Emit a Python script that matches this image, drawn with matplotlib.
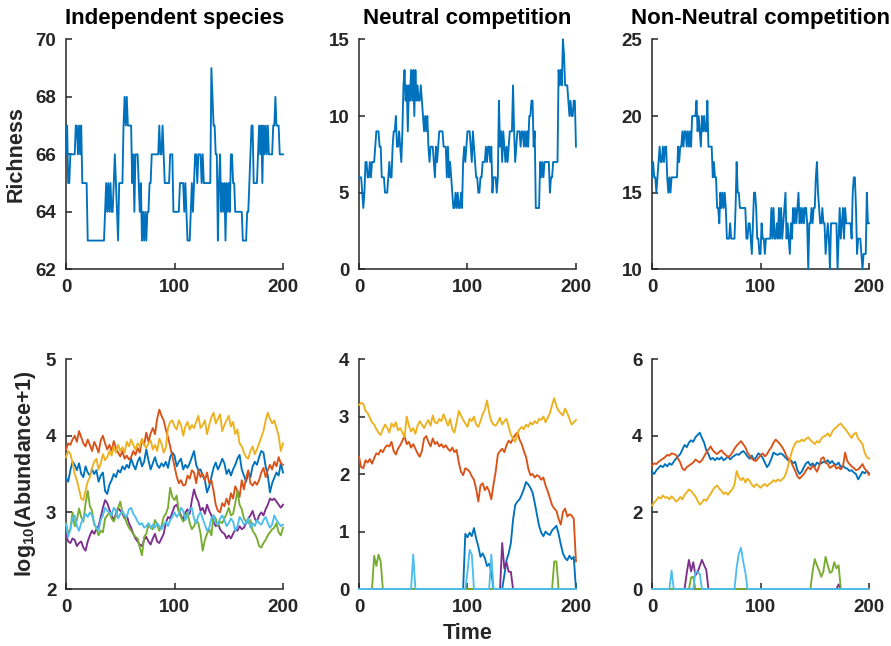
import numpy as np
import matplotlib
matplotlib.use("Agg")
import matplotlib.pyplot as plt

# ---- fonts / style (MATLAB-like, bold Helvetica look) ----
plt.rcParams['font.family'] = ['Liberation Sans', 'DejaVu Sans']
plt.rcParams['font.weight'] = 'bold'
plt.rcParams['mathtext.fontset'] = 'custom'
plt.rcParams['mathtext.rm'] = 'Liberation Sans:bold'
plt.rcParams['mathtext.it'] = 'Liberation Sans:bold'

# MATLAB default line colours
C_BLUE = '#0072BD'
C_ORANGE = '#D95319'
C_YELLOW = '#EDB120'
C_PURPLE = '#7E2F8E'
C_GREEN = '#77AC30'
C_CYAN = '#4DBEEE'
INK = '#262626'

titles = ["Independent species", "Neutral competition", "Non-Neutral competition"]

# ---- richness, one value per time step (t = 0..200) ----
rich_indep = [
    66, 67, 65, 65, 66, 66, 66, 66, 66, 67,
    67, 66, 67, 66, 67, 65, 65, 65, 65, 65,
    63, 63, 63, 63, 63, 63, 63, 63, 63, 63,
    63, 63, 63, 63, 63, 63, 64, 65, 64, 65,
    64, 65, 64, 64, 65, 66, 65, 64, 63, 65,
    65, 65, 65, 67, 68, 67, 68, 67, 67, 67,
    67, 65, 66, 64, 66, 66, 66, 65, 64, 65,
    63, 64, 63, 64, 63, 64, 64, 65, 65, 66,
    66, 66, 66, 66, 66, 66, 67, 66, 66, 67,
    66, 65, 65, 65, 65, 65, 66, 66, 66, 64,
    64, 64, 64, 64, 64, 65, 65, 65, 65, 64,
    65, 64, 63, 63, 63, 64, 65, 64, 65, 66,
    66, 65, 66, 66, 66, 65, 66, 65, 65, 65,
    65, 65, 65, 65, 69, 68, 67, 67, 66, 66,
    63, 65, 66, 64, 65, 64, 65, 63, 65, 64,
    65, 64, 66, 66, 65, 65, 64, 64, 64, 64,
    64, 64, 64, 63, 63, 63, 63, 64, 64, 65,
    66, 67, 67, 65, 65, 65, 65, 66, 67, 66,
    67, 65, 67, 66, 67, 66, 67, 66, 66, 66,
    66, 67, 67, 68, 67, 67, 67, 66, 66, 66,
    66]

rich_neutral = [
    6, 6, 6, 5, 4, 5, 7, 7, 6, 6,
    7, 6, 7, 7, 7, 8, 9, 9, 9, 8,
    8, 6, 6, 6, 5, 5, 5, 6, 7, 6,
    6, 8, 9, 9, 10, 8, 8, 9, 8, 7,
    9, 12, 13, 11, 12, 9, 12, 11, 13, 11,
    13, 10, 13, 11, 12, 11, 11, 12, 11, 10,
    9, 10, 9, 10, 8, 7, 8, 8, 8, 7,
    6, 8, 7, 8, 9, 9, 9, 9, 8, 8,
    8, 6, 8, 6, 7, 6, 5, 4, 4, 5,
    4, 5, 4, 4, 5, 4, 7, 8, 7, 8,
    9, 9, 9, 8, 7, 9, 8, 7, 6, 6,
    5, 5, 6, 6, 7, 7, 7, 8, 7, 8,
    8, 7, 8, 5, 6, 6, 6, 5, 6, 11,
    8, 9, 7, 9, 8, 7, 8, 7, 8, 9,
    9, 9, 12, 9, 7, 8, 9, 9, 9, 8,
    9, 9, 8, 9, 8, 9, 8, 10, 10, 11,
    11, 8, 9, 4, 4, 4, 4, 7, 6, 7,
    6, 7, 7, 7, 7, 7, 5, 6, 6, 7,
    7, 7, 7, 7, 13, 12, 13, 12, 15, 14,
    12, 12, 12, 11, 10, 11, 10, 10, 11, 11,
    8]

rich_nonneutral = [
    16, 17, 16, 16, 15, 16, 17, 18, 17, 17,
    18, 17, 18, 18, 16, 15, 16, 15, 16, 16,
    16, 16, 16, 16, 18, 17, 18, 18, 19, 18,
    19, 19, 18, 19, 18, 19, 18, 20, 20, 20,
    20, 21, 19, 20, 19, 18, 20, 19, 20, 19,
    19, 21, 18, 18, 18, 18, 16, 17, 16, 16,
    14, 14, 13, 15, 14, 15, 14, 15, 14, 12,
    12, 12, 13, 12, 12, 12, 12, 14, 17, 15,
    15, 14, 14, 14, 14, 14, 14, 12, 12, 13,
    13, 12, 11, 13, 15, 15, 14, 12, 12, 11,
    11, 13, 12, 12, 11, 12, 12, 12, 12, 12,
    14, 12, 14, 12, 12, 13, 12, 14, 12, 14,
    12, 13, 14, 15, 12, 13, 12, 11, 13, 12,
    14, 13, 14, 13, 14, 15, 13, 14, 13, 14,
    13, 14, 14, 13, 10, 13, 13, 14, 13, 14,
    14, 16, 17, 15, 14, 13, 13, 14, 13, 13,
    11, 12, 13, 12, 10, 13, 13, 13, 13, 13,
    13, 10, 12, 14, 12, 13, 14, 12, 14, 13,
    13, 13, 13, 13, 12, 15, 16, 16, 14, 11,
    12, 12, 12, 11, 10, 11, 11, 11, 15, 13,
    13]

# ---- log10(abundance+1), read every 2 time steps (t = 0, 2, ..., 200) ----
# independent species
ind_blue = [
    3.45, 3.40, 3.55, 3.66, 3.62, 3.55, 3.64, 3.50, 3.46, 3.60,
    3.52, 3.48, 3.56, 3.50, 3.55, 3.40, 3.48, 3.52, 3.28, 3.24,
    3.36, 3.42, 3.50, 3.46, 3.55, 3.52, 3.60, 3.56, 3.62, 3.58,
    3.70, 3.62, 3.56, 3.66, 3.72, 3.60, 3.66, 3.82, 3.68, 3.56,
    3.64, 3.72, 3.62, 3.58, 3.64, 3.60, 3.66, 3.58, 3.72, 3.78,
    3.74, 3.60, 3.66, 3.70, 3.56, 3.62, 3.58, 3.64, 3.72, 3.80,
    3.62, 3.55, 3.56, 3.48, 3.42, 3.26, 3.34, 3.46, 3.58, 3.65,
    3.56, 3.62, 3.70, 3.64, 3.50, 3.56, 3.48, 3.56, 3.62, 3.70,
    3.75, 3.56, 3.48, 3.40, 3.52, 3.46, 3.60, 3.66, 3.62, 3.72,
    3.80, 3.78, 3.60, 3.48, 3.26, 3.38, 3.45, 3.52, 3.48, 3.64,
    3.52]
ind_orange = [
    3.82, 3.90, 3.88, 3.95, 4.00, 3.92, 4.06, 3.98, 3.90, 3.86,
    3.95, 3.88, 3.80, 3.92, 3.86, 3.78, 3.94, 4.00, 3.90, 3.82,
    3.88, 3.80, 3.93, 3.84, 3.78, 3.73, 3.80, 3.70, 3.74, 3.69,
    3.72, 3.80, 3.75, 3.84, 3.78, 3.95, 3.88, 4.04, 3.92, 4.03,
    4.10, 4.02, 4.22, 4.34, 4.26, 4.20, 4.08, 3.98, 3.86, 3.73,
    3.60, 3.47, 3.38, 3.42, 3.35, 3.36, 3.48, 3.44, 3.55, 3.52,
    3.38, 3.55, 3.46, 3.50, 3.42, 3.52, 3.38, 3.42, 3.28, 3.10,
    3.02, 3.00, 3.12, 3.08, 3.18, 3.10, 3.25, 3.18, 3.34, 3.28,
    3.20, 3.42, 3.30, 3.45, 3.55, 3.38, 3.35, 3.40, 3.36, 3.42,
    3.52, 3.58, 3.46, 3.55, 3.62, 3.56, 3.66, 3.60, 3.72, 3.64,
    3.62]
ind_yellow = [
    3.72, 3.80, 3.76, 3.65, 3.50, 3.42, 3.30, 3.18, 3.16, 3.28,
    3.40, 3.46, 3.58, 3.66, 3.70, 3.56, 3.64, 3.76, 3.68, 3.72,
    3.80, 3.74, 3.86, 3.78, 3.88, 3.80, 3.85, 3.78, 3.92, 3.86,
    3.95, 3.88, 3.82, 3.90, 3.86, 3.96, 3.88, 3.84, 3.90, 3.94,
    3.82, 3.88, 3.80, 3.96, 3.90, 3.78, 3.84, 4.10, 4.18, 4.20,
    4.12, 4.08, 4.20, 4.14, 4.00, 4.12, 4.18, 4.08, 4.14, 4.10,
    4.18, 4.26, 4.10, 4.14, 4.20, 4.02, 4.14, 4.24, 4.30, 4.16,
    4.22, 4.28, 4.06, 4.14, 4.20, 4.26, 4.12, 4.18, 4.02, 4.08,
    3.90, 3.86, 3.78, 3.72, 3.70, 3.80, 3.86, 3.76, 3.82, 3.90,
    3.98, 4.06, 4.20, 4.30, 4.22, 4.16, 4.20, 4.10, 4.00, 3.80,
    3.90]
ind_purple = [
    2.70, 2.62, 2.60, 2.66, 2.64, 2.56, 2.60, 2.62, 2.54, 2.50,
    2.62, 2.70, 2.76, 2.72, 2.78, 2.82, 2.94, 3.06, 3.16, 3.12,
    3.04, 2.96, 2.90, 2.98, 3.06, 3.02, 2.98, 2.92, 2.96, 2.86,
    2.80, 2.72, 2.66, 2.62, 2.58, 2.56, 2.64, 2.68, 2.62, 2.58,
    2.66, 2.72, 2.62, 2.60, 2.66, 2.72, 2.86, 2.94, 2.92, 3.00,
    3.08, 3.10, 3.02, 2.96, 2.90, 3.00, 3.04, 2.98, 3.16, 3.30,
    3.20, 3.14, 3.02, 3.06, 2.98, 3.10, 3.02, 2.96, 2.88, 2.82,
    2.86, 2.78, 2.74, 2.72, 2.66, 2.70, 2.66, 2.72, 2.78, 2.76,
    2.82, 2.78, 2.80, 2.86, 2.92, 2.96, 3.02, 2.92, 2.88, 2.96,
    3.00, 2.96, 3.04, 3.10, 3.18, 3.16, 3.18, 3.14, 3.10, 3.06,
    3.10]
ind_green = [
    2.86, 2.72, 2.78, 3.00, 2.82, 2.90, 3.05, 2.94, 2.88, 3.12,
    3.28, 3.08, 3.02, 2.84, 2.80, 2.70, 2.76, 2.74, 2.92, 2.96,
    3.00, 2.92, 2.88, 2.96, 3.06, 3.14, 3.00, 2.94, 2.86, 2.80,
    2.76, 2.72, 2.68, 2.66, 2.54, 2.44, 2.68, 2.72, 2.84, 2.80,
    2.78, 2.90, 2.84, 2.76, 2.82, 2.94, 2.98, 3.06, 3.32, 3.20,
    3.16, 3.22, 3.00, 2.94, 2.88, 2.92, 3.00, 2.86, 2.78, 2.82,
    2.90, 2.86, 2.72, 2.50, 2.64, 2.72, 2.78, 2.70, 2.96, 2.92,
    2.82, 2.88, 2.86, 2.92, 2.98, 3.06, 2.96, 2.98, 3.12, 3.28,
    3.10, 3.04, 2.92, 2.88, 2.86, 2.90, 2.76, 2.72, 2.66, 2.56,
    2.54, 2.60, 2.64, 2.70, 2.74, 2.78, 2.80, 2.86, 2.74, 2.70,
    2.80]
ind_cyan = [
    2.84, 2.68, 2.78, 2.92, 2.96, 2.82, 2.76, 2.86, 2.92, 2.98,
    2.94, 3.00, 2.96, 2.86, 2.80, 2.76, 2.90, 2.96, 3.06, 3.02,
    3.00, 2.96, 3.06, 3.02, 2.92, 2.98, 3.02, 2.96, 2.94, 3.04,
    3.06, 2.98, 2.94, 2.88, 2.84, 2.86, 2.80, 2.82, 2.86, 2.80,
    2.84, 2.80, 2.86, 2.82, 2.78, 2.84, 2.88, 2.82, 2.90, 2.94,
    3.00, 2.94, 2.98, 3.06, 3.02, 2.90, 2.96, 3.04, 3.06, 2.92,
    2.86, 2.96, 3.00, 2.92, 2.84, 2.76, 2.80, 2.92, 2.96, 2.86,
    2.84, 2.92, 2.96, 2.90, 2.82, 2.86, 2.92, 2.88, 2.76, 2.82,
    2.94, 2.90, 2.84, 2.86, 2.92, 2.80, 2.86, 2.82, 2.90, 2.86,
    2.84, 2.90, 2.94, 2.86, 2.80, 2.84, 2.96, 2.90, 2.86, 2.82,
    2.84]

# neutral competition
neu_blue = ([0.0] * 49
            + [0.96, 0.90, 0.98, 0.92, 1.06, 0.88, 0.74, 0.56, 0.62, 0.54, 0.40, 0.44, 0.30]
            + [0.0] * 5
            + [0.24, 0.50, 0.62, 0.80, 1.20, 1.46, 1.52, 1.56, 1.64, 1.74,
               1.86, 1.82, 1.76, 1.68, 1.50, 1.30, 1.10, 0.98, 0.92, 1.00,
               0.96, 0.94, 1.02, 1.06, 1.10, 0.96, 0.78, 0.62, 0.54, 0.50,
               0.58, 0.52, 0.56]
            + [0.0])
neu_orange = [
    2.30, 2.12, 2.10, 2.24, 2.20, 2.26, 2.18, 2.28, 2.36, 2.34,
    2.42, 2.38, 2.46, 2.50, 2.48, 2.56, 2.40, 2.34, 2.44, 2.50,
    2.58, 2.66, 2.52, 2.56, 2.46, 2.52, 2.44, 2.36, 2.30, 2.40,
    2.62, 2.66, 2.56, 2.48, 2.62, 2.52, 2.56, 2.48, 2.52, 2.46,
    2.50, 2.44, 2.40, 2.46, 2.38, 2.42, 2.20, 2.04, 1.98, 2.10,
    2.08, 2.04, 1.96, 1.90, 1.74, 1.52, 1.80, 1.84, 1.72, 1.78,
    1.70, 1.56, 1.82, 2.04, 2.34, 2.40, 2.44, 2.38, 2.50, 2.58,
    2.54, 2.62, 2.68, 2.72, 2.60, 2.52, 2.40, 2.30, 2.10, 1.98,
    2.00, 1.94, 1.98, 1.96, 1.90, 1.94, 1.80, 1.70, 1.58, 1.46,
    1.40, 1.36, 1.22, 1.12, 1.34, 1.40, 1.26, 1.30, 1.28, 1.22,
    0.48]
neu_yellow = [
    3.20, 3.24, 3.22, 3.10, 3.06, 2.98, 2.90, 2.86, 2.78, 2.72,
    2.68, 2.78, 2.86, 2.80, 2.72, 2.88, 2.82, 2.90, 2.76, 2.80,
    2.72, 2.64, 3.00, 2.84, 2.74, 2.80, 2.70, 2.84, 2.92, 2.86,
    2.80, 2.88, 2.94, 2.84, 3.02, 2.90, 2.88, 2.96, 2.92, 3.04,
    2.94, 2.84, 2.96, 2.78, 2.72, 2.90, 3.10, 3.02, 2.94, 2.88,
    2.82, 2.96, 2.92, 3.00, 2.86, 2.82, 2.92, 3.04, 3.12, 3.28,
    3.06, 2.92, 2.86, 2.84, 2.90, 2.98, 2.86, 2.92, 2.96, 2.82,
    2.68, 2.62, 2.56, 2.70, 2.78, 2.82, 2.78, 2.86, 2.82, 2.90,
    2.86, 2.92, 2.88, 2.96, 2.94, 3.00, 2.90, 2.98, 3.06, 3.20,
    3.32, 3.18, 3.10, 3.06, 3.02, 3.14, 3.06, 2.96, 2.86, 2.90,
    2.94]
neu_purple = [0.0] * 66 + [0.80, 0.36, 0.46, 0.30, 0.30] + [0.0] * 30
neu_green = [0.0] * 7 + [0.58, 0.40, 0.60, 0.48] + [0.0] * 79 + [0.48, 0.48] + [0.0] * 9
neu_cyan = ([0.0] * 25 + [0.60] + [0.0] * 24 + [0.30, 0.68, 0.60]
            + [0.0] * 8 + [0.60] + [0.0] * 39)

# non-neutral competition
nn_blue = [
    3.06, 3.00, 3.10, 3.16, 3.22, 3.18, 3.26, 3.20, 3.28, 3.24,
    3.32, 3.40, 3.46, 3.52, 3.64, 3.76, 3.70, 3.82, 3.88, 3.84,
    3.96, 4.02, 4.08, 3.94, 3.82, 3.62, 3.52, 3.38, 3.42, 3.36,
    3.42, 3.38, 3.44, 3.36, 3.40, 3.46, 3.38, 3.44, 3.48, 3.52,
    3.50, 3.56, 3.60, 3.54, 3.46, 3.40, 3.48, 3.36, 3.44, 3.54,
    3.50, 3.42, 3.30, 3.18, 3.26, 3.40, 3.56, 3.52, 3.50, 3.54,
    3.52, 3.46, 3.40, 3.34, 3.36, 3.28, 3.32, 3.10, 3.00, 3.06,
    3.18, 3.28, 3.32, 3.22, 3.28, 3.20, 3.30, 3.26, 3.28, 3.32,
    3.30, 3.36, 3.28, 3.34, 3.26, 3.24, 3.30, 3.18, 3.22, 3.16,
    3.14, 3.08, 3.10, 3.04, 3.00, 2.86, 2.96, 3.06, 3.02, 3.08,
    3.02]
nn_orange = [
    3.22, 3.28, 3.26, 3.32, 3.36, 3.40, 3.44, 3.50, 3.48, 3.54,
    3.52, 3.50, 3.40, 3.30, 3.14, 3.10, 3.18, 3.22, 3.26, 3.30,
    3.38, 3.34, 3.30, 3.36, 3.46, 3.56, 3.64, 3.72, 3.62, 3.56,
    3.52, 3.58, 3.62, 3.54, 3.50, 3.44, 3.48, 3.56, 3.66, 3.74,
    3.80, 3.86, 3.78, 3.70, 3.56, 3.48, 3.40, 3.36, 3.34, 3.42,
    3.48, 3.54, 3.46, 3.52, 3.62, 3.70, 3.82, 3.90, 3.84, 3.78,
    3.70, 3.60, 3.46, 3.38, 3.34, 3.20, 3.08, 2.94, 2.88, 2.94,
    3.00, 3.10, 3.18, 3.12, 3.22, 3.16, 3.06, 3.20, 3.40, 3.44,
    3.30, 3.26, 3.16, 3.20, 3.24, 3.14, 3.18, 3.12, 3.20, 3.56,
    3.34, 3.26, 3.20, 3.16, 3.10, 3.12, 3.18, 3.26, 3.14, 3.08,
    2.98]
nn_yellow = [
    2.18, 2.26, 2.32, 2.40, 2.36, 2.44, 2.38, 2.40, 2.34, 2.42,
    2.36, 2.28, 2.32, 2.40, 2.34, 2.46, 2.52, 2.60, 2.56, 2.48,
    2.42, 2.30, 2.20, 2.26, 2.34, 2.30, 2.40, 2.48, 2.58, 2.66,
    2.70, 2.62, 2.56, 2.48, 2.52, 2.46, 2.54, 2.60, 2.72, 3.08,
    2.92, 2.84, 2.90, 2.78, 2.88, 2.82, 2.72, 2.66, 2.74, 2.70,
    2.64, 2.70, 2.74, 2.68, 2.74, 2.78, 2.84, 2.80, 2.86, 2.82,
    2.86, 2.92, 3.06, 3.28, 3.50, 3.68, 3.80, 3.86, 3.84, 3.90,
    3.86, 3.92, 3.96, 3.88, 3.84, 3.78, 3.86, 3.82, 3.92, 3.98,
    4.00, 4.06, 3.98, 4.10, 4.18, 4.22, 4.28, 4.32, 4.24, 4.18,
    4.10, 4.02, 3.94, 4.04, 4.08, 3.92, 3.86, 3.78, 3.56, 3.44,
    3.40]
nn_purple = [0.0] * 16 + [0.42, 0.76, 0.46, 0.70, 0.36, 0.44, 0.60, 0.76, 0.62, 0.50] + [0.0] * 60 + [0.12] + [0.0] * 14
nn_green = ([0.0] * 18 + [0.30, 0.32] + [0.0] * 54
            + [0.46, 0.78, 0.62, 0.48, 0.32, 0.46, 0.84, 0.62, 0.42, 0.46, 0.70, 0.54, 0.62]
            + [0.0] * 14)
nn_cyan = ([0.0] * 9 + [0.48] + [0.0] * 10 + [0.46, 0.44, 0.40] + [0.0] * 16
           + [0.56, 0.92, 1.08, 0.72, 0.44] + [0.0] * 57)

t_rich = np.arange(len(rich_indep))
t_ab = np.arange(0, 201, 2)

# ---- figure ----
fig = plt.figure(figsize=(8.91, 6.46), dpi=100)
lefts = [0.0741, 0.4029, 0.7318]
w, h = 0.2435, 0.356
axs_top = [fig.add_axes([l, 0.5831, w, h]) for l in lefts]
axs_bot = [fig.add_axes([l, 0.0882, w, h]) for l in lefts]


def style(ax, ylim, yticks):
    ax.set_xlim(0, 200)
    ax.set_ylim(*ylim)
    ax.set_xticks([0, 100, 200])
    ax.set_yticks(yticks)
    for s in ['top', 'right']:
        ax.spines[s].set_visible(False)
    for s in ['left', 'bottom']:
        ax.spines[s].set_color(INK)
        ax.spines[s].set_linewidth(1.1)
    ax.tick_params(direction='in', length=4, width=1.1, color=INK,
                   labelsize=13.5, labelcolor=INK, pad=7)
    for lab in ax.get_xticklabels() + ax.get_yticklabels():
        lab.set_fontweight('bold')


lw = 1.35
# richness row
for ax, rich, ttl in zip(axs_top, [rich_indep, rich_neutral, rich_nonneutral], titles):
    ax.plot(t_rich, rich, color=C_BLUE, lw=lw, clip_on=False, zorder=3)
    ax.set_title(ttl, fontsize=16, fontweight='bold', color='black', pad=11)

style(axs_top[0], (62, 70), [62, 64, 66, 68, 70])
style(axs_top[1], (0, 15), [0, 5, 10, 15])
style(axs_top[2], (10, 25), [10, 15, 20, 25])
axs_top[0].set_ylabel("Richness", fontsize=15.5, fontweight='bold', color=INK, labelpad=6)

# abundance row
colors = [C_BLUE, C_ORANGE, C_YELLOW, C_PURPLE, C_GREEN, C_CYAN]
groups = [
    [ind_blue, ind_orange, ind_yellow, ind_purple, ind_green, ind_cyan],
    [neu_blue, neu_orange, neu_yellow, neu_purple, neu_green, neu_cyan],
    [nn_blue, nn_orange, nn_yellow, nn_purple, nn_green, nn_cyan],
]
for ax, series in zip(axs_bot, groups):
    for y, c in zip(series, colors):
        ax.plot(t_ab, y, color=c, lw=lw, clip_on=False, zorder=3)

style(axs_bot[0], (2, 5), [2, 3, 4, 5])
style(axs_bot[1], (0, 4), [0, 1, 2, 3, 4])
style(axs_bot[2], (0, 6), [0, 2, 4, 6])
axs_bot[0].set_ylabel("log$_{10}$(Abundance+1)", fontsize=15.5, fontweight='bold', color=INK, labelpad=6)
axs_bot[1].set_xlabel("Time", fontsize=15.5, fontweight='bold', color=INK, labelpad=5)

fig.savefig("out.png", dpi=100, facecolor='white')
